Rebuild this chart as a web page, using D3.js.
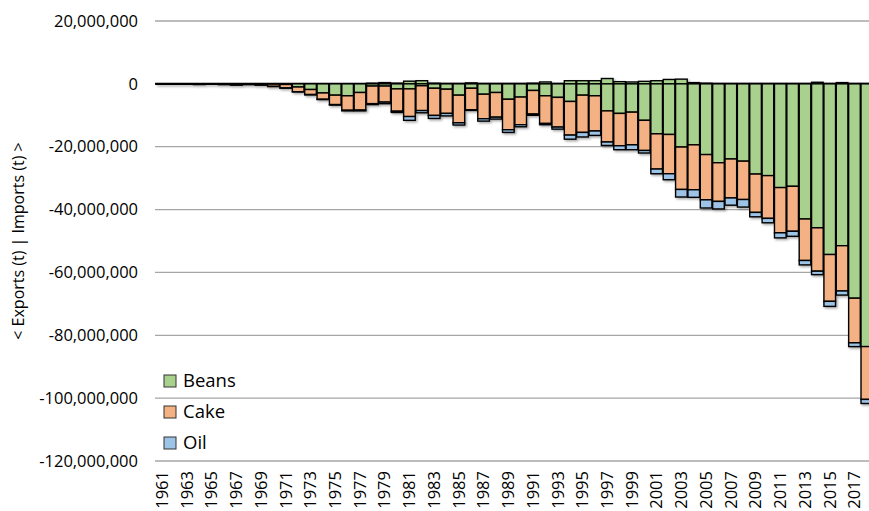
<!DOCTYPE html>
<html>
<head>
<meta charset="utf-8">
<script src="https://cdn.jsdelivr.net/npm/d3@7"></script>
<style>
  body { margin: 0; background: #fff; }
  svg { display: block; }
  text { font-family: "Open Sans", sans-serif; fill: #000; }
</style>
</head>
<body>
<svg id="chart" width="869" height="511"></svg>
<script>
// Soy trade by year, million tonnes (exports drawn below zero)
var years = d3.range(1961, 2019);

var beansExp = [0.02, 0.03, 0.05, 0.08, 0.05, 0.1, 0.15, 0.1, 0.15,
  0.1, 0.2, 1.0, 1.8, 2.9, 3.6, 3.8, 2.75, 0.7, 0.7,
  1.6, 1.6, 0.6, 1.4, 1.7, 3.6, 1.4, 3.3, 2.75, 4.9,
  4.2, 2.1, 3.8, 4.3, 5.6, 3.6, 3.8, 8.6, 9.4, 9.0,
  11.6, 15.9, 16.1, 20.1, 19.4, 22.5, 25.1, 23.9, 24.6, 28.7,
  29.2, 33.0, 32.6, 43.0, 45.8, 54.3, 51.5, 68.2, 83.6];

var cakeExp = [0.03, 0.03, 0.05, 0.1, 0.05, 0.1, 0.2, 0.1, 0.2,
  0.7, 1.1, 1.5, 1.6, 2.0, 3.0, 4.6, 5.6, 5.6, 5.1,
  7.1, 8.8, 7.9, 8.65, 7.7, 8.8, 6.85, 7.8, 7.85, 9.7,
  8.8, 7.5, 8.8, 9.45, 10.7, 11.85, 11.2, 9.9, 10.3, 10.4,
  9.6, 11.2, 12.5, 13.5, 14.3, 14.4, 12.3, 12.4, 12.2, 12.2,
  13.6, 14.4, 14.3, 13.2, 13.8, 14.9, 14.4, 14.2, 16.8];

var oilExp = [0.01, 0.01, 0.01, 0.02, 0.02, 0.02, 0.03, 0.02, 0.03,
  0.05, 0.05, 0.05, 0.1, 0.1, 0.15, 0.2, 0.25, 0.3, 0.5,
  0.4, 1.2, 0.7, 0.95, 0.8, 0.7, 0.2, 0.75, 0.6, 0.85,
  0.65, 0.4, 0.4, 0.65, 1.3, 1.45, 1.4, 1.1, 1.25, 1.55,
  0.8, 1.5, 1.9, 2.4, 2.4, 2.6, 2.4, 2.3, 2.4, 1.4,
  1.4, 1.6, 1.6, 1.4, 1.1, 1.6, 1.3, 1.2, 1.3];

var beansImp = [0, 0, 0, 0, 0, 0, 0, 0, 0,
  0, 0, 0, 0, 0, 0, 0, 0, 0.2, 0.4,
  0.2, 0.85, 1.0, 0.2, 0.1, 0.1, 0.3, 0.1, 0.1, 0.1,
  0.1, 0.2, 0.6, 0.1, 1.0, 1.0, 1.0, 1.7, 0.7, 0.6,
  0.8, 1.0, 1.4, 1.5, 0.4, 0.2, 0.1, 0.1, 0.1, 0.1,
  0.1, 0.1, 0.1, 0.1, 0.5, 0.1, 0.4, 0.1, 0.1];

var yTicks = [20e6, 0, -20e6, -40e6, -60e6, -80e6, -100e6, -120e6];
var legendItems = ["Beans", "Cake", "Oil"];
var colors = { Beans: "#a9d18e", Cake: "#f4b183", Oil: "#9dc3e6" };

// table for the stack: imports positive, exports negative
var rows = years.map(function(yr, i) {
  return {
    year: yr,
    beansImp: beansImp[i] * 1e6,
    beansExp: -beansExp[i] * 1e6,
    cakeExp: -cakeExp[i] * 1e6,
    oilExp: -oilExp[i] * 1e6
  };
});
var keys = ["beansImp", "beansExp", "cakeExp", "oilExp"];
var keyColor = { beansImp: colors.Beans, beansExp: colors.Beans, cakeExp: colors.Cake, oilExp: colors.Oil };

var series = d3.stack().keys(keys).offset(d3.stackOffsetDiverging)(rows);

var svg = d3.select("#chart");

var x = d3.scaleBand()
  .domain(years)
  .range([156, 873])
  .paddingInner(0.06)
  .paddingOuter(0.03);

var y = d3.scaleLinear()
  .domain([-120e6, 20e6])
  .range([461, 21]);

var fmt = d3.formatLocale({ decimal: ".", thousands: ",", grouping: [3], currency: ["", ""], minus: "-" }).format(",");

// shadow under the bars
var defs = svg.append("defs");
var filter = defs.append("filter").attr("id", "shadow")
  .attr("x", "-20%").attr("y", "-20%").attr("width", "150%").attr("height", "150%");
filter.append("feDropShadow")
  .attr("dx", 1.5).attr("dy", 1.5).attr("stdDeviation", 0.8)
  .attr("flood-color", "#000").attr("flood-opacity", 0.35);

// gridlines
svg.append("g")
  .selectAll("line")
  .data(yTicks.filter(function(d) { return d !== 0; }))
  .enter().append("line")
  .attr("x1", 155).attr("x2", 869)
  .attr("y1", function(d) { return y(d); })
  .attr("y2", function(d) { return y(d); })
  .attr("stroke", "#a6a6a6")
  .attr("stroke-width", 1.3);

// y tick labels
svg.append("g")
  .selectAll("text")
  .data(yTicks)
  .enter().append("text")
  .attr("x", 138)
  .attr("y", function(d) { return y(d); })
  .attr("dy", "0.35em")
  .attr("text-anchor", "end")
  .style("font-size", "16.5px")
  .text(function(d) { return fmt(d); });

// zero line
svg.append("line")
  .attr("x1", 155).attr("x2", 869)
  .attr("y1", y(0)).attr("y2", y(0))
  .attr("stroke", "#000")
  .attr("stroke-width", 2);

// bars
svg.append("g")
  .attr("filter", "url(#shadow)")
  .selectAll("g")
  .data(series)
  .enter().append("g")
  .attr("fill", function(s) { return keyColor[s.key]; })
  .selectAll("rect")
  .data(function(s) { return s; })
  .enter().append("rect")
  .attr("x", function(d) { return x(d.data.year); })
  .attr("width", x.bandwidth())
  .attr("y", function(d) { return y(Math.max(d[0], d[1])); })
  .attr("height", function(d) { return Math.abs(y(d[0]) - y(d[1])); })
  .attr("stroke", "#000")
  .attr("stroke-width", 1.4);

// x labels, every other year
svg.append("g")
  .selectAll("text")
  .data(years.filter(function(d) { return (d - 1961) % 2 === 0; }))
  .enter().append("text")
  .attr("transform", function(d) {
    return "translate(" + (x(d) + x.bandwidth() / 2) + ",471) rotate(-90)";
  })
  .attr("dy", "0.35em")
  .attr("text-anchor", "end")
  .style("font-size", "16.5px")
  .text(function(d) { return d; });

// y title
svg.append("text")
  .attr("transform", "translate(18,241) rotate(-90)")
  .attr("dy", "0.35em")
  .attr("text-anchor", "middle")
  .style("font-size", "16px")
  .text("< Exports (t) | Imports (t) >");

// legend
var legend = svg.append("g")
  .selectAll("g")
  .data(legendItems)
  .enter().append("g")
  .attr("transform", function(d, i) { return "translate(164," + (381 + i * 31) + ")"; });

legend.append("rect")
  .attr("x", 0).attr("y", -6)
  .attr("width", 12).attr("height", 12)
  .attr("fill", function(d) { return colors[d]; })
  .attr("stroke", "#333")
  .attr("stroke-width", 1);

legend.append("text")
  .attr("x", 19)
  .attr("dy", "0.35em")
  .style("font-size", "18.5px")
  .text(function(d) { return d; });
</script>
</body>
</html>
